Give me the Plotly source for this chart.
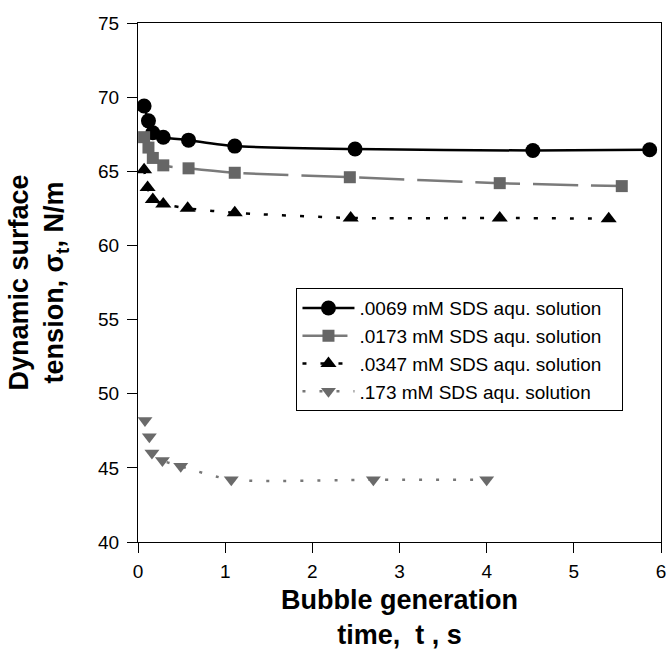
import plotly.graph_objects as go

# Data
t_0069 = [0.07, 0.12, 0.17, 0.29, 0.58, 1.11, 2.49, 4.53, 5.87]
s_0069 = [69.4, 68.4, 67.6, 67.3, 67.1, 66.7, 66.5, 66.4, 66.45]

t_0173 = [0.07, 0.12, 0.17, 0.29, 0.58, 1.11, 2.43, 4.15, 5.55]
s_0173 = [67.3, 66.6, 65.9, 65.4, 65.2, 64.9, 64.6, 64.2, 64.0]

t_0347 = [0.07, 0.11, 0.17, 0.29, 0.57, 1.11, 2.44, 4.15, 5.40]
s_0347 = [65.1, 63.9, 63.1, 62.8, 62.5, 62.2, 61.85, 61.85, 61.8]

t_173 = [0.08, 0.13, 0.16, 0.28, 0.49, 1.07, 2.70, 4.00]
s_173 = [48.2, 47.1, 46.0, 45.5, 45.1, 44.2, 44.2, 44.2]

names = [".0069 mM SDS aqu. solution", ".0173 mM SDS aqu. solution",
         ".0347 mM SDS aqu. solution", ".173 mM SDS aqu. solution"]

x_ticks = [0, 1, 2, 3, 4, 5, 6]
y_ticks = [40, 45, 50, 55, 60, 65, 70, 75]

FONT = "Liberation Sans, Arial, sans-serif"
PAD = "\u00a0\u00a0\u00a0"

fig = go.Figure()
fig.add_trace(go.Scatter(
    x=t_0069, y=s_0069, name=names[0] + PAD, mode="lines+markers",
    line=dict(color="black", width=2.5, shape="spline", smoothing=0.6),
    marker=dict(symbol="circle", size=15, color="black")))
fig.add_trace(go.Scatter(
    x=t_0173, y=s_0173, name=names[1] + PAD, mode="lines+markers",
    line=dict(color="#7a7a7a", width=2.5, dash="45px,13px", shape="spline", smoothing=0.6),
    marker=dict(symbol="square", size=12, color="#666666")))
fig.add_trace(go.Scatter(
    x=t_0347, y=s_0347, name=names[2] + PAD, mode="lines+markers",
    line=dict(color="black", width=2.5, dash="4px,14px", shape="spline", smoothing=0.6),
    marker=dict(symbol="triangle-up", size=14, color="black")))
fig.add_trace(go.Scatter(
    x=t_173, y=s_173, name=names[3] + PAD, mode="lines+markers",
    line=dict(color="#777777", width=2.5, dash="3px,14px", shape="spline", smoothing=0.6),
    marker=dict(symbol="triangle-down", size=13, color="#6a6a6a")))

axis_common = dict(
    showgrid=False, zeroline=False, showline=True, linecolor="black", linewidth=1,
    mirror=True, ticks="outside", ticklen=10, tickwidth=1, tickcolor="black",
    tickfont=dict(family=FONT, size=19, color="black"), automargin=False,
)

fig.update_layout(
    width=667, height=650,
    margin=dict(l=138, r=6, t=23, b=108),
    paper_bgcolor="white", plot_bgcolor="white",
    font=dict(family=FONT, color="black"),
    showlegend=True,
    legend=dict(
        x=0.303, y=0.489, xanchor="left", yanchor="top",
        bgcolor="white", bordercolor="black", borderwidth=1,
        font=dict(family=FONT, size=19, color="black"),
        tracegroupgap=0, itemwidth=52,
    ),
    xaxis=dict(
        range=[0, 6], tickvals=x_ticks, ticklabelstandoff=2,
        title=dict(text="<b>Bubble generation<br>time,  t , s</b>",
                   font=dict(family=FONT, size=27, color="black"), standoff=34),
        **axis_common),
    yaxis=dict(
        range=[40, 75], tickvals=y_ticks, ticklabelstandoff=4,
        title=dict(text="<b>Dynamic surface<br>tension, σ<sub>t</sub>, N/m</b>",
                   font=dict(family=FONT, size=27, color="black"), standoff=26),
        **axis_common),
)

fig.write_html("out.html")
